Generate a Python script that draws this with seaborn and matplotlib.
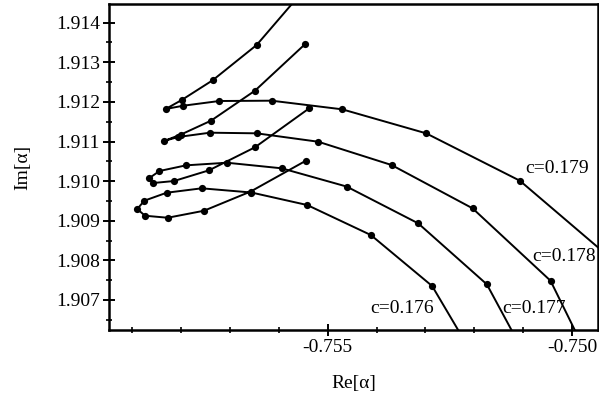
import matplotlib
matplotlib.use("Agg")
import matplotlib.pyplot as plt
from matplotlib.ticker import MultipleLocator, FormatStrFormatter
import seaborn as sns
import pandas as pd

# ---- data ----
re_179 = [-0.755554, -0.756451, -0.757351, -0.757984, -0.758311, -0.757952, -0.757216,
          -0.756145, -0.754702, -0.752985, -0.751069, -0.749230]
im_179 = [1.914725, 1.913437, 1.912546, 1.912048, 1.911821, 1.911904, 1.912023,
          1.912031, 1.911813, 1.911207, 1.910011, 1.908074]

re_178 = [-0.755464, -0.756486, -0.757385, -0.757999, -0.758346, -0.758060, -0.757406,
          -0.756451, -0.755192, -0.753692, -0.752036, -0.750442, -0.749737]
im_178 = [1.913455, 1.912283, 1.911526, 1.911177, 1.911013, 1.911114, 1.911223,
          1.911207, 1.910995, 1.910407, 1.909314, 1.907486, 1.905718]

re_177 = [-0.755376, -0.756486, -0.757426, -0.758142, -0.758565, -0.758653, -0.758438,
          -0.757896, -0.757058, -0.755940, -0.754612, -0.753148, -0.751744, -0.750971]
im_177 = [1.911839, 1.910854, 1.910273, 1.910003, 1.909953, 1.910071, 1.910256,
          1.910399, 1.910465, 1.910324, 1.909864, 1.908935, 1.907395, 1.905627]

re_176 = [-0.755444, -0.756574, -0.757528, -0.758270, -0.758734, -0.758892, -0.758749,
          -0.758291, -0.757575, -0.756558, -0.755417, -0.754115, -0.752862, -0.752077]
im_176 = [1.910516, 1.909738, 1.909253, 1.909076, 1.909127, 1.909296, 1.909506,
          1.909708, 1.909819, 1.909713, 1.909397, 1.908639, 1.907352, 1.905711]

curve_names = ["c=0.179", "c=0.178", "c=0.177", "c=0.176"]
curve_re = [re_179, re_178, re_177, re_176]
curve_im = [im_179, im_178, im_177, im_176]

# label anchor positions (data coordinates)
label_x = [-0.750313, -0.750174, -0.750769, -0.753481]
label_y = [1.910331, 1.908092, 1.906789, 1.906789]

x_ticks = [-0.755, -0.750]
y_ticks = [1.907, 1.908, 1.909, 1.910, 1.911, 1.912, 1.913, 1.914]

# ---- style ----
sns.set_theme(style="ticks")
plt.rcParams["font.family"] = ["Liberation Serif", "DejaVu Serif"]
plt.rcParams["axes.unicode_minus"] = False
plt.rcParams["text.color"] = "black"
plt.rcParams["axes.labelcolor"] = "black"

fig = plt.figure(figsize=(5.99, 3.99), dpi=100)
ax = fig.add_axes([0.182, 0.173, 0.816, 0.817])

for name, xs, ys in zip(curve_names, curve_re, curve_im):
    df = pd.DataFrame({"re": xs, "im": ys})
    sns.lineplot(data=df, x="re", y="im", sort=False, estimator=None, ax=ax,
                 color="black", linewidth=1.4, marker="o", markersize=5.2,
                 markeredgewidth=0, markerfacecolor="black")

for name, lx, ly in zip(curve_names, label_x, label_y):
    ax.text(lx, ly, name, fontsize=14, ha="center", va="center", color="black")

ax.set_xlim(-0.75947, -0.749475)
ax.set_ylim(1.906243, 1.914472)

ax.xaxis.set_major_locator(plt.FixedLocator(x_ticks))
ax.xaxis.set_major_formatter(FormatStrFormatter("%.3f"))
ax.xaxis.set_minor_locator(MultipleLocator(0.001))
ax.yaxis.set_major_locator(plt.FixedLocator(y_ticks))
ax.yaxis.set_major_formatter(FormatStrFormatter("%.3f"))
ax.yaxis.set_minor_locator(MultipleLocator(0.0005))

ax.tick_params(axis="both", which="major", direction="inout", length=9, width=1.4,
               labelsize=14, colors="black", pad=2)
ax.tick_params(axis="both", which="minor", direction="inout", length=4, width=1.2,
               colors="black")

for side in ["left", "bottom", "top", "right"]:
    ax.spines[side].set_linewidth(1.8)
    ax.spines[side].set_color("black")

ax.set_xlabel("Re[α]", fontsize=14, labelpad=14, color="black")
ax.set_ylabel("Im[α]", fontsize=14, labelpad=18, color="black")

fig.savefig("out.png", dpi=100)
